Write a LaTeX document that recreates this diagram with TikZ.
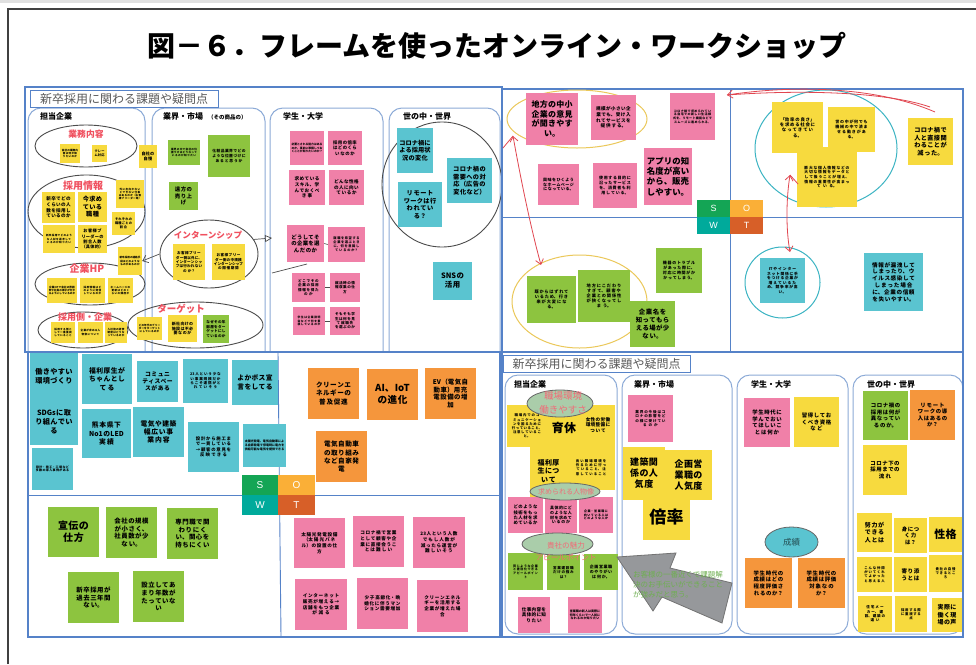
\documentclass[tikz,border=0pt]{standalone}
\usepackage{fontspec}
\setmainfont{Noto Sans CJK JP}
\newfontfamily\latf{Liberation Sans}
\usetikzlibrary{arrows.meta,shapes.geometric}
\XeTeXlinebreaklocale "ja"
\XeTeXlinebreakskip=0pt plus 1pt
\definecolor{ny}{RGB}{247,218,62}
\definecolor{np}{RGB}{240,128,168}
\definecolor{ng}{RGB}{141,196,63}
\definecolor{nc}{RGB}{90,196,208}
\definecolor{no}{RGB}{245,150,60}
\definecolor{framec}{RGB}{85,130,200}
\definecolor{colb}{RGB}{140,170,215}
\definecolor{lblred}{RGB}{240,80,95}
\definecolor{sG}{RGB}{20,165,85}
\definecolor{wT}{RGB}{0,170,155}
\definecolor{oO}{RGB}{250,175,55}
\definecolor{tT}{RGB}{215,95,40}
\definecolor{elY}{RGB}{235,200,90}
\definecolor{elC}{RGB}{60,180,195}
\definecolor{redln}{RGB}{225,70,80}
\definecolor{elG}{RGB}{170,205,170}
\definecolor{arrg}{RGB}{150,152,155}
\definecolor{gtxt}{RGB}{110,175,80}
\newcommand\mynote[8]{%
\pgfmathsetmacro\mnx{(#3+#5)/2}%
\pgfmathsetmacro\mny{(#4+#6)/2}%
\pgfmathsetmacro\mnw{#5-#3}%
\pgfmathsetmacro\mnh{#6-#4}%
\pgfmathsetmacro\mnt{#5-#3-3}%
\pgfmathsetmacro\mnl{#7*1.22}%
\node[note,fill=#2,minimum width=\mnw pt,minimum height=\mnh pt,text width=\mnt pt,font=\fontsize{#7pt}{\mnl pt}\selectfont\bfseries] (#1) at (\mnx,\mny) {#8};}
\tikzset{
 note/.style={inner sep=1pt,align=center,draw=none,text=black},
 frm/.style={draw=framec,line width=1.1pt},
 colbox/.style={draw=colb,line width=1pt,rounded corners=13pt},
 elo/.style={ellipse,draw=black!70,line width=0.9pt,inner sep=0pt},
 lbl/.style={text=lblred,font=\fontsize{#1pt}{#1pt}\selectfont\bfseries,inner sep=0pt},
 colhead/.style={anchor=west,inner sep=0pt,font=\fontsize{8pt}{8pt}\selectfont\bfseries},
 hdr/.style={draw=framec,line width=0.8pt,minimum height=17pt,inner sep=0pt,text=black!65,font=\fontsize{12pt}{12pt}\selectfont},
 swot/.style={inner sep=0pt,text=white,font=\latf\fontsize{#1pt}{#1pt}\selectfont},
 redarr/.style={draw=redln,line width=0.8pt},
 barb/.tip={Straight Barb[length=5pt,width=8pt]}
}
\begin{document}
\begin{tikzpicture}[x=1pt,y=-1pt]
\useasboundingbox (0,0) rectangle (976,664);
\fill[white] (0,0) rectangle (976,664);
\fill[black!12] (0,0) rectangle (976,3);
\draw[black!75,line width=1.3pt] (8,664) -- (8,9) -- (976,9);
\node[font=\fontsize{28pt}{31pt}\selectfont\bfseries] (title) at (497,46) {図－６．フレームを使ったオンライン・ワークショップ};

% ===== Top-left quadrant =====
\begin{scope}
\clip (25,87) rectangle (502,352);
\draw[colbox] (28,108) rectangle (145,365);
\draw[colbox] (152,108) rectangle (265,365);
\draw[colbox] (270,108) rectangle (383,365);
\draw[colbox] (389,108) rectangle (500,365);
\end{scope}
\draw[frm] (25,87) rectangle (502,352);
\node[hdr,minimum width=188pt] (hdrA) at (124,98.5) {新卒採用に関わる課題や疑問点};
\node[colhead] (chA) at (40,116) {担当企業};
\node[colhead] (chB) at (163,116) {業界・市場};
\node[colhead,font=\fontsize{5.5pt}{5.5pt}\selectfont\bfseries] (chB2) at (208,117) {（その商品の）};
\node[colhead] (chC) at (283,116) {学生・大学};
\node[colhead] (chD) at (403,116) {世の中・世界};

\node[elo,minimum width=102pt,minimum height=42pt] (e1) at (86,146) {};
\node[elo,minimum width=117pt,minimum height=73pt] (e2) at (86.5,211.5) {};
\node[elo,minimum width=110pt,minimum height=42pt] (e3) at (90,284) {};
\node[elo,minimum width=90pt,minimum height=36pt] (e4) at (83,330) {};
\node[elo,minimum width=135pt,minimum height=46pt] (e5) at (195.5,325) {};
\node[elo,minimum width=98pt,minimum height=68pt] (e6) at (209,254) {};
\node[elo,minimum width=120pt,minimum height=125pt] (e7) at (442,184.5) {};

\mynote{a1}{ny}{60}{144}{80}{163}{2.6}{会社の業務内容は何か知りたいのか}
\mynote{a2}{ny}{92}{145}{107}{162}{3.2}{クレー\\ム対応}
\mynote{a3}{ny}{139}{145}{157}{168}{4.2}{自社の\\自慢}
\mynote{a4}{ny}{42}{192}{75}{223}{4.6}{新卒でどの\\くらいの人\\数を採用し\\ているのか}
\mynote{a5}{ny}{78}{192}{107}{222}{6.2}{今求め\\ている\\職種}
\mynote{a6}{ny}{43}{225}{75}{253}{2.6}{新卒採用でどのような人材を選考しているのか知りたい}
\mynote{a7}{ny}{78}{225}{107}{253}{4.2}{お客様ブ\\リーダーの\\割合人数\\（具体的）}
\mynote{a8}{ny}{116}{180}{144}{208}{2.6}{外に出向かないとできない仕事はあるのか（お客様ブリーダー等）}
\mynote{a9}{ny}{112}{212}{135}{235}{3.2}{それぞれの\\職種ごとの\\割合}
\mynote{a10}{ny}{118}{247}{142}{275}{2.6}{新卒採用の連絡手段はどのようなものがあるのか}
\mynote{a11}{ny}{47}{278}{77}{303}{2.6}{企業HPで会社の雰囲気や社員の様子が分かるようにしているのか}
\mynote{a12}{ny}{80}{278}{105}{303}{2.6}{採用情報はどのように発信しているのか}
\mynote{a13}{ny}{108}{278}{133}{303}{2.6}{ホームページの更新はどのくらいの頻度か}
\mynote{a14}{ny}{51}{322}{75}{343}{2.6}{採用する側として一番重視していること}
\mynote{a15}{ny}{78}{322}{103}{343}{2.6}{企業が求める人物像について}
\mynote{a16}{ny}{105}{322}{127}{343}{2.6}{入社後の研修制度はどうなっているのか}
\mynote{a17}{ny}{137}{317}{162}{340}{2.6}{どの年代のブリーダーをターゲットにしているのか}
\mynote{a18}{ny}{168}{315}{197}{342}{4}{新社向けの\\施設は不必\\要なのか}
\mynote{a19}{ng}{203}{315}{229}{343}{3.6}{なぜその年\\齢層をター\\ゲットにし\\ているのか}

\mynote{b1}{ng}{168}{140}{200}{165}{2.6}{業界の中で会社の位置づけはどうなっているのか知りたい}
\mynote{b2}{ng}{208}{135}{250}{177}{3.8}{化粧品業界でどの\\ような位置づけに\\あると思うか}
\mynote{b3}{ng}{169}{182}{198}{210}{5.4}{遠方の\\売り上\\げ}
\mynote{b4}{ny}{173}{244}{205}{280}{3.6}{お客様ブリー\\ダー側以外に、\\インターンシッ\\プは行われない\\のか？}
\mynote{b5}{ny}{212}{244}{245}{280}{3.6}{お客様ブリー\\ダー側の中規模\\インターンシップ\\の開催期間}

\mynote{c1}{np}{290}{131}{324}{165}{2.8}{必要とされる能力はあるのか、事前に準備しておくことが知りたいのか？}
\mynote{c2}{np}{328}{131}{362}{165}{4.4}{採用の倍率\\はどのくら\\いなのか}
\mynote{c3}{np}{289}{170}{325}{205}{4.6}{求めている\\スキル、学\\んでおくべ\\き事}
\mynote{c4}{np}{329}{170}{364}{205}{4.6}{どんな性格\\の人に向い\\ているか}
\mynote{c5}{np}{287}{225}{324}{262}{5.4}{どうしてそ\\の企業を選\\んだのか}
\mynote{c6}{np}{328}{227}{365}{262}{3.2}{就職を希望する\\企業を選ぶとき\\に、何を意識し\\ているのか？}
\mynote{c7}{np}{292}{273}{325}{302}{3.6}{どこでその\\企業の採用\\情報を得た\\のか}
\mynote{c8}{np}{330}{273}{360}{302}{3.6}{就活時の情\\報収集の仕\\方}
\mynote{c9}{np}{293}{307}{325}{335}{2.8}{学生は企業説明会などで何を重視しているのか}
\mynote{c10}{np}{330}{307}{360}{335}{3.6}{そもそも学\\生は何を見\\て就職先\\を選ぶのか}
\draw[black!70,line width=0.6pt] (c5.east) -- (c6.west);
\draw[black!70,line width=0.6pt] (c7.east) -- (c8.west);
\draw[black!70,line width=0.6pt] (c9.east) -- (c10.west);
\coordinate (cl1) at (272,273);
\coordinate (cl2) at (307,264);
\draw[black!70,line width=0.7pt] (cl1) -- (cl2);

\mynote{d1}{nc}{397}{128}{433}{173}{6.2}{コロナ禍に\\よる採用状\\況の変化}
\mynote{d2}{nc}{447}{158}{492}{203}{6.2}{コロナ禍の\\需要への対\\応（広告の\\変化など）}
\mynote{d3}{nc}{398}{182}{442}{227}{6.2}{リモート\\ワークは行\\われてい\\る？}
\mynote{d4}{nc}{433}{262}{472}{300}{7.4}{SNSの\\活用}

\node[lbl=8.8] (l1) at (86,134) {業務内容};
\node[lbl=10] (l2) at (83,186) {採用情報};
\node[lbl=10] (l3) at (87,269) {企業HP};
\node[lbl=9] (l4) at (85,317) {採用側・企業};
\node[lbl=9.5] (l5) at (181,309) {ターゲット};
\node[lbl=8.6] (l6) at (208,235) {インターンシップ};
\draw[black!70,line width=0.7pt,-{barb}] (e6.west) -- (a10.east);
\coordinate (ia) at (272,238);
\draw[black!70,line width=0.7pt,-{Triangle[open,length=7pt,width=7pt]}] (e6.18) -- (ia);

% ===== Top-right quadrant =====
\draw[frm] (502,89) rectangle (963,352);
\draw[frm,line width=0.9pt] (502,217) -- (963,217);
\draw[frm,line width=0.9pt] (730,89) -- (730,352);
\node[ellipse,draw=elY,line width=1pt,minimum width=140pt,minimum height=58pt] (e8) at (577,119) {};
\node[ellipse,draw=elY,line width=1pt,minimum width=135pt,minimum height=93pt] (e9) at (579.5,301.5) {};
\node[ellipse,draw=elC,line width=1pt,minimum width=142pt,minimum height=117pt] (e10) at (826,148.5) {};
\node[ellipse,draw=elC,line width=1pt,minimum width=75pt,minimum height=71pt] (e11) at (782.5,282.5) {};

\mynote{s1}{np}{526}{93}{578}{145}{8}{地方の中小\\企業の意見\\が聞きやす\\い。}
\mynote{s2}{np}{591}{95}{636}{140}{4.6}{規模が小さい企\\業でも、受け入\\れてサービスを\\提供する。}
\mynote{s3}{np}{670}{93}{715}{140}{3}{コロナ禍で求められている自宅での新しい生活様式を、リモート機能などでスムーズに進められる。}
\mynote{s4}{np}{538}{164}{579}{205}{4}{興味をひくよう\\なホームページ\\になっている。}
\mynote{s5}{np}{593}{163}{637}{208}{4}{使用する目的に\\沿ったサービス\\を、消費者も利\\用している。}
\mynote{s6}{np}{644}{148}{692}{205}{8.4}{アプリの知\\名度が高い\\から、販売\\しやすい。}

\mynote{w1}{ng}{527}{276}{576}{323}{4.2}{既からはずれて\\いるため、行き\\来が大変にな\\る。}
\mynote{w2}{ng}{578}{270}{630}{322}{4.2}{地方にこだわり\\すぎて、顧客や\\企業との関係性\\が狭くなってし\\まう。}
\mynote{w4}{ng}{656}{248}{702}{293}{4}{機器のトラブル\\があった際に、\\対応に時間がか\\かってしまう。}
\mynote{w3}{ng}{630}{301}{675}{347}{6.4}{企業名を\\知ってもら\\える場が少\\ない。}

\mynote{o1}{ny}{772}{102}{823}{153}{4.4}{「効率の良さ」\\を求める社会に\\なってきてい\\る。}
\mynote{o2}{ny}{828}{107}{875}{152}{4}{世の中が何でも\\機械の中で済ま\\せる動きがあ\\る。}
\mynote{o3}{ny}{797}{147}{857}{207}{3.8}{膨大な個人情報などの\\大切な情報をデータと\\して扱うことが増え、\\情報の重要性が高まっ\\ている。}
\mynote{o4}{ny}{908}{118}{953}{165}{6.2}{コロナ禍で\\人と直接関\\わることが\\減った。}

\mynote{t1}{nc}{760}{258}{805}{303}{3.8}{ITやインター\\ネット関係に手\\をつける企業が\\増えているた\\め、競争率が高\\い。}
\mynote{t2}{nc}{864}{253}{923}{311}{5.6}{情報が漏洩して\\しまったり、ウ\\イルス感染して\\しまった場合\\に、企業の信頼\\を失いやすい。}

\node[fill=sG,minimum width=33pt,minimum height=17pt,swot=9] (S1) at (713.5,208.5) {S};
\node[fill=oO,minimum width=33pt,minimum height=17pt,swot=9] (O1) at (746.5,208.5) {O};
\node[fill=wT,minimum width=33pt,minimum height=17pt,swot=9] (W1) at (713.5,225.5) {W};
\node[fill=tT,minimum width=33pt,minimum height=17pt,swot=9] (T1) at (746.5,225.5) {T};

\coordinate (ra1) at (513,136);
\coordinate (ra2) at (541,265);
\coordinate (ra0) at (503,148);
\draw[redarr,{barb}-{barb}] (ra1) .. controls (520,175) and (530,225) .. (ra2);
\draw[redarr] (ra1) -- (ra0);
\coordinate (ra3) at (727,95);
\coordinate (ra4) at (935,112);
\coordinate (ra4b) at (930,107);
\draw[redarr,{barb}-] (ra3) .. controls (800,84) and (880,88) .. (ra4);
\draw[redarr] (ra3) .. controls (810,89) and (890,93) .. (ra4b);
\coordinate (ra5) at (790,175);
\coordinate (ra6) at (790,252);
\coordinate (ra7) at (798,184);
\draw[redarr,{barb}-{barb}] (ra5) .. controls (786,200) and (786,230) .. (ra6);
\draw[redarr] (ra5) -- (ra7);

% ===== Bottom-left quadrant =====
\draw[frm] (28,352) rectangle (500,637);
\draw[frm,line width=0.9pt] (28,495) -- (500,495);
\draw[frm,line width=0.9pt] (278,352) -- (281,637);

\mynote{f1}{nc}{30}{353}{78}{400}{7.2}{働きやすい\\環境づくり}
\mynote{f2}{nc}{30}{399}{78}{445}{7.2}{SDGsに取\\り組んでい\\る}
\mynote{f3}{nc}{32}{448}{73}{490}{3}{設計・施工・工場など多数の導入事例がある}
\mynote{f4}{nc}{82}{354}{132}{404}{6.8}{福利厚生が\\ちゃんとし\\てる}
\mynote{f5}{nc}{137}{361}{178}{402}{5.8}{コミュニ\\ティスペー\\スがある}
\mynote{f6}{nc}{183}{359}{228}{403}{3.6}{23人という少な\\い事業規模だか\\らこそ連携がと\\れていそう}
\mynote{f7}{nc}{232}{360}{278}{405}{6.8}{よかボス宣\\言をしてる}
\mynote{f8}{nc}{82}{409}{131}{458}{6.8}{熊本県下\\No1のLED\\実績}
\mynote{f9}{nc}{133}{407}{184}{457}{6.8}{電気や建築\\幅広い事\\業内容}
\mynote{f10}{nc}{188}{422}{239}{472}{4.4}{設計から施工ま\\で一貫している\\→顧客の意見を\\反映できる}
\mynote{f11}{nc}{243}{424}{286}{467}{3}{太陽光発電、電気自動車による自家発電で停電時に電力を供給可能な電気を提供できる}

\mynote{g1}{no}{308}{368}{359}{419}{6.6}{クリーンエ\\ネルギーの\\普及促進}
\mynote{g2}{no}{367}{369}{418}{420}{9.6}{AI、IoT\\の進化}
\mynote{g3}{no}{425}{368}{476}{419}{6.4}{EV（電気自\\動車）用充\\電設備の増\\加}
\mynote{g4}{no}{316}{431}{367}{482}{6.6}{電気自動車\\の取り組み\\など自家発\\電}

\mynote{h1}{ng}{48}{507}{99}{557}{10}{宣伝の\\仕方}
\mynote{h2}{ng}{106}{507}{157}{558}{6.4}{会社の規模\\が小さく、\\社員数が少\\ない。}
\mynote{h3}{ng}{167}{508}{218}{559}{6.4}{専門職で関\\わりにく\\い、関心を\\持ちにくい}
\mynote{h4}{ng}{68}{572}{119}{623}{6.4}{新卒採用が\\過去三年間\\ない。}
\mynote{h5}{ng}{133}{571}{184}{622}{6.4}{設立してあ\\まり年数が\\たっていな\\い}

\mynote{k1}{np}{294}{518}{345}{568}{4.6}{太陽光発電設備\\（太陽光パネ\\ル）の設置の仕\\方}
\mynote{k2}{np}{353}{516}{404}{567}{4.6}{コロナ禍で営業\\として顧客や企\\業に直接会うこ\\とは難しい}
\mynote{k3}{np}{413}{517}{465}{568}{4.6}{23人という人数\\でもし人数が\\減ったら運営が\\難しいそう}
\mynote{k4}{np}{295}{579}{347}{630}{4.6}{インターネット\\販売が増える→\\店舗をもつ企業\\が減る}
\mynote{k5}{np}{357}{578}{408}{629}{4.6}{少子高齢化・晩\\婚化に伴うマン\\ション需要増加}
\mynote{k6}{np}{417}{580}{468}{632}{4.6}{クリーンエネル\\ギーを活用する\\企業が増えた場\\合}

\node[fill=sG,minimum width=36pt,minimum height=20pt,swot=10] (S2) at (260,485) {S};
\node[fill=oO,minimum width=37pt,minimum height=20pt,swot=10] (O2) at (296.5,485) {O};
\node[fill=wT,minimum width=36pt,minimum height=20pt,swot=10] (W2) at (260,505) {W};
\node[fill=tT,minimum width=37pt,minimum height=20pt,swot=10] (T2) at (296.5,505) {T};

% ===== Bottom-right quadrant =====
\draw[colbox] (505,375) rectangle (617,634);
\draw[colbox] (622,375) rectangle (732,634);
\draw[colbox] (737,375) rectangle (848,634);
\draw[colbox] (853,375) rectangle (963,634);
\draw[frm] (502,352) rectangle (963,637);
\node[hdr,minimum width=187pt] (hdrB) at (596.5,363.5) {新卒採用に関わる課題や疑問点};
\node[colhead] (chE) at (514,384) {担当企業};
\node[colhead] (chF) at (634,384) {業界・市場};
\node[colhead] (chG) at (751,384) {学生・大学};
\node[colhead] (chH) at (867,384) {世の中・世界};

\mynote{m1}{ny}{507}{405}{547}{447}{3.4}{職場内でのコ\\ミュニケーショ\\ンを図るために\\行っていること、\\注意しているこ\\と。}
\mynote{m2}{ny}{547}{405}{581}{450}{12}{育休}
\mynote{m3}{ny}{581}{405}{615}{445}{4.6}{女性の労働\\環境整備に\\ついて}
\mynote{m4}{ny}{530}{445}{567}{497}{7}{福利厚\\生につ\\いて}
\mynote{m5}{ny}{567}{445}{615}{490}{3.4}{良い職場環境を\\作るために行っ\\ていること、注\\意していること}
\mynote{m6}{np}{508}{497}{543}{533}{4.4}{どのような\\技術をもっ\\た人材を求\\めているか}
\mynote{m7}{np}{545}{497}{577}{533}{4}{具体的にど\\のような人\\材を求めて\\いるのか}
\mynote{m8}{np}{579}{497}{613}{533}{3}{企業・営業職に\\向いている人は\\どのような人か}
\mynote{m9}{ng}{508}{553}{543}{590}{3}{同じような企業\\と差別化できる\\アピールポイン\\ト}
\mynote{m10}{ng}{547}{555}{580}{590}{3.6}{営業建設職\\だけの強み\\は？}
\mynote{m11}{ng}{584}{554}{618}{590}{4}{企画営業職\\のやりがい\\は何か。}
\mynote{m12}{np}{518}{597}{550}{633}{4.6}{仕事内容を\\具体的に知\\りたい}
\mynote{m13}{np}{568}{597}{602}{633}{3}{営業職の新人は実際に何年くらいで一人前になれるのか知りたい}

\node[ellipse,fill=elG,draw=black!60,line width=0.8pt,minimum width=66pt,minimum height=27pt] (e12) at (560,403.5) {};
\node[align=center,text=lblred!85,font=\fontsize{9.5pt}{14pt}\selectfont,inner sep=0pt] (l7) at (563,403) {職場環境\\働きやすさ};
\node[ellipse,fill=elG,draw=black!60,line width=0.8pt,minimum width=70pt,minimum height=17pt] (e13) at (565,491.5) {};
\node[text=lblred!85,font=\fontsize{7pt}{7pt}\selectfont,inner sep=0pt] (l8) at (566,492) {求められる人物像};
\node[ellipse,fill=elG,draw=black!60,line width=0.8pt,minimum width=71pt,minimum height=22pt] (e14) at (557.5,544) {};
\node[align=center,text=lblred!85,font=\fontsize{7.6pt}{12pt}\selectfont,inner sep=0pt] (l9) at (566,551) {貴社の魅力\\アピールポイント};

\mynote{n1}{np}{628}{395}{673}{442}{3.6}{業界の今後はコ\\ロナの影響をど\\の様に受けてい\\るのか}
\mynote{n4}{ny}{643}{495}{690}{540}{17}{倍率}
\mynote{n2}{ny}{623}{447}{665}{500}{9}{建築関\\係の人\\気度}
\mynote{n3}{ny}{665}{450}{712}{500}{9}{企画営\\業職の\\人気度}

\fill[arrg,draw=black!55,line width=0.8pt] (617,557) -- (676,553) -- (670,568) -- (732,583) -- (722,623) -- (662,597) -- (653,611) -- cycle;
\node[anchor=north west,align=left,text=gtxt,font=\fontsize{7.5pt}{10pt}\selectfont,inner sep=0pt] (gt) at (633,571) {お客様の一番近くで課題解\\決のお手伝いができること\\が強みだと思う。};

\mynote{q1}{np}{744}{398}{790}{447}{5.4}{学生時代に\\学んでおい\\てほしいこ\\とは何か}
\mynote{q2}{ny}{794}{397}{839}{447}{5.4}{習得してお\\くべき資格\\など}
\node[ellipse,fill=nc,draw=black!60,line width=0.8pt,minimum width=53pt,minimum height=30pt,text=black!60!nc,font=\fontsize{8.5pt}{8.5pt}\selectfont] (e15) at (791.5,542) {成績};
\mynote{q3}{no}{745}{558}{792}{608}{5.4}{学生時代の\\成績はどの\\程度評価さ\\れるのか？}
\mynote{q4}{no}{798}{558}{845}{608}{5.4}{学生時代の\\成績は評価\\対象なの\\か？}

\mynote{r1}{ng}{863}{391}{908}{440}{5.4}{コロナ禍の\\採用は何が\\異なってい\\るのか。}
\mynote{r2}{no}{910}{390}{955}{440}{5.4}{リモート\\ワークの導\\入はあるの\\か？}
\mynote{r3}{ny}{863}{445}{907}{495}{5.4}{コロナ下の\\採用までの\\流れ}
\mynote{r4}{ny}{857}{513}{892}{552}{6}{努力が\\できる\\人とは}
\mynote{r5}{ny}{894}{518}{927}{553}{5.4}{身につ\\く力\\は？}
\mynote{r6}{ny}{929}{517}{962}{552}{11}{性格}
\mynote{r7}{ny}{857}{557}{892}{592}{3.4}{こんな仲間\\がいてくれ\\てよかった\\と思える人}
\mynote{r8}{ny}{894}{557}{927}{592}{5.6}{寄り添\\うとは}
\mynote{r9}{ny}{929}{555}{962}{592}{3.4}{貴社の自慢\\できるとこ\\ろ}
\mynote{r10}{ny}{858}{596}{892}{632}{3.6}{住宅メー\\カー、建\\設、建築の\\違い}
\mynote{r11}{ny}{895}{596}{927}{632}{3.4}{採用する際\\に重視する\\点}
\mynote{r12}{ny}{932}{598}{962}{632}{6}{実際に\\働く現\\場の声}
\end{tikzpicture}
\end{document}
